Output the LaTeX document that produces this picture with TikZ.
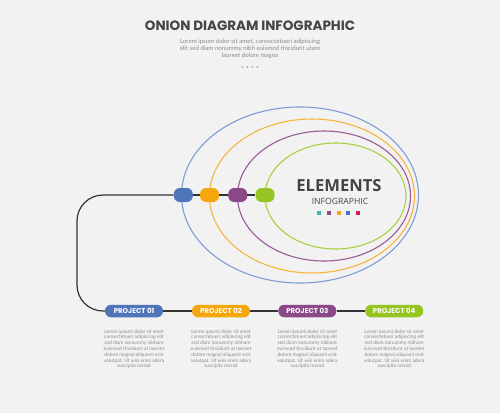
\documentclass[tikz,border=0pt]{standalone}
\usepackage{fontspec}
\setmainfont{Lato}
\newfontfamily\popfont{Poppins}
\newfontfamily\opfont{Open Sans}
\usepackage{xcolor}
\definecolor{bgcol}{HTML}{F2F2F2}
\definecolor{darktxt}{HTML}{444444}
\definecolor{greytxt}{HTML}{8A8A8A}
\definecolor{projblue}{HTML}{4F74BA}
\definecolor{projorange}{HTML}{F5A70E}
\definecolor{projpurple}{HTML}{8A4A88}
\definecolor{projgreen}{HTML}{96C521}
\definecolor{ringblue}{HTML}{7E9CD6}
\definecolor{ringorange}{HTML}{F7B53A}
\definecolor{ringpurple}{HTML}{9A5C98}
\definecolor{ringgreen}{HTML}{A6D040}
\definecolor{sqteal}{HTML}{3DB8B0}
\definecolor{sqred}{HTML}{D2234C}

\begin{document}
\begin{tikzpicture}[x=1pt,y=-1pt]
    \tikzset{knob/.style = {shape=rectangle, rounded corners=6pt, minimum width=19pt, minimum height=14pt, inner sep=0pt}}
    \tikzset{pill/.style = {shape=rectangle, rounded corners=6pt, minimum width=58pt, minimum height=12.5pt, inner sep=0pt, text=white, font=\popfont\bfseries\fontsize{7}{8}\selectfont}}
    \tikzset{ring/.style = {line width=1.1pt}}
    \tikzset{link/.style = {draw=black!80, line width=1.2pt}}
    \tikzset{note/.style = {align=center, text=greytxt, font=\fontsize{4.9}{5.8}\selectfont, anchor=north}}
    \tikzset{sq/.style = {shape=rectangle, minimum size=4pt, inner sep=0pt}}

    \fill[bgcol] (0,0) rectangle (500,413);
    \useasboundingbox (0,0) rectangle (500,413);

    % heading
    \node[text=darktxt, font=\popfont\bfseries\fontsize{13.5}{15}\selectfont] (title) at (250,26) {ONION DIAGRAM INFOGRAPHIC};
    \node[align=center, text=greytxt, font=\fontsize{6.1}{6.9}\selectfont] (sub) at (250,49) {Lorem ipsum dolor sit amet, consectetueri adipiscing\\elit sed diam nonummy nibh euismod tincidunt utare\\laoreet dolore magna};
    \foreach \i in {0,...,3}
        \fill[black!35] (242.3+5*\i,67) circle (1pt);

    % rings
    \draw[ring, ringblue] (300,195) ellipse [x radius=118.5pt, y radius=88pt];
    \draw[ring, ringorange] (312,196) ellipse [x radius=102.5pt, y radius=77pt];
    \draw[ring, ringpurple] (324,196) ellipse [x radius=86.5pt, y radius=65pt];
    \draw[ring, ringgreen] (335.5,196) ellipse [x radius=70.5pt, y radius=53pt];

    % centre label
    \node[text=darktxt, font=\opfont\bfseries\fontsize{16.6}{18}\selectfont] (elem) at (339,186) {ELEMENTS};
    \node[text=darktxt, font=\opfont\fontsize{8.6}{9}\selectfont] (info) at (340,201.5) {INFOGRAPHIC};
    \node[sq, fill=sqteal] (s1) at (319.3,212.7) {};
    \node[sq, fill=projpurple] (s2) at (329,212.7) {};
    \node[sq, fill=projorange] (s3) at (338.5,212.7) {};
    \node[sq, fill=projblue] (s4) at (348,212.7) {};
    \node[sq, fill=sqred] (s5) at (357.5,212.7) {};

    % knobs
    \node[knob, fill=projblue] (k1) at (183.3,195) {};
    \node[knob, fill=projorange] (k2) at (209.5,195) {};
    \node[knob, fill=projpurple] (k3) at (237.7,195) {};
    \node[knob, fill=projgreen] (k4) at (265,195) {};

    % projects
    \node[pill, fill=projblue] (p1) at (134,311) {PROJECT 01};
    \node[pill, fill=projorange] (p2) at (221,311) {PROJECT 02};
    \node[pill, fill=projpurple] (p3) at (307.3,311) {PROJECT 03};
    \node[pill, fill=projgreen] (p4) at (394.2,311) {PROJECT 04};

    % notes
    \foreach \p in {p1,p2,p3,p4}
        \node[note] at ([yshift=-8.5pt]\p.south) {Lorem ipsumi dolor sit amet\\consectetueri adipiscing elit\\sed diam nonummy nibhare\\euismod tincidunt ut laoreet\\dolore magnai aliquami erat\\volutpat. Ut wisi enim adera\\suscipita merad};

    % links
    \draw[link, rounded corners=26pt] (k1.west) -- (77,195) -- (77,311) -- (p1.west);
    \draw[link] (k1.east) -- (k2.west);
    \draw[link] (k2.east) -- (k3.west);
    \draw[link] (k3.east) -- (k4.west);
    \draw[link] (p1.east) -- (p2.west);
    \draw[link] (p2.east) -- (p3.west);
    \draw[link] (p3.east) -- (p4.west);
\end{tikzpicture}
\end{document}
